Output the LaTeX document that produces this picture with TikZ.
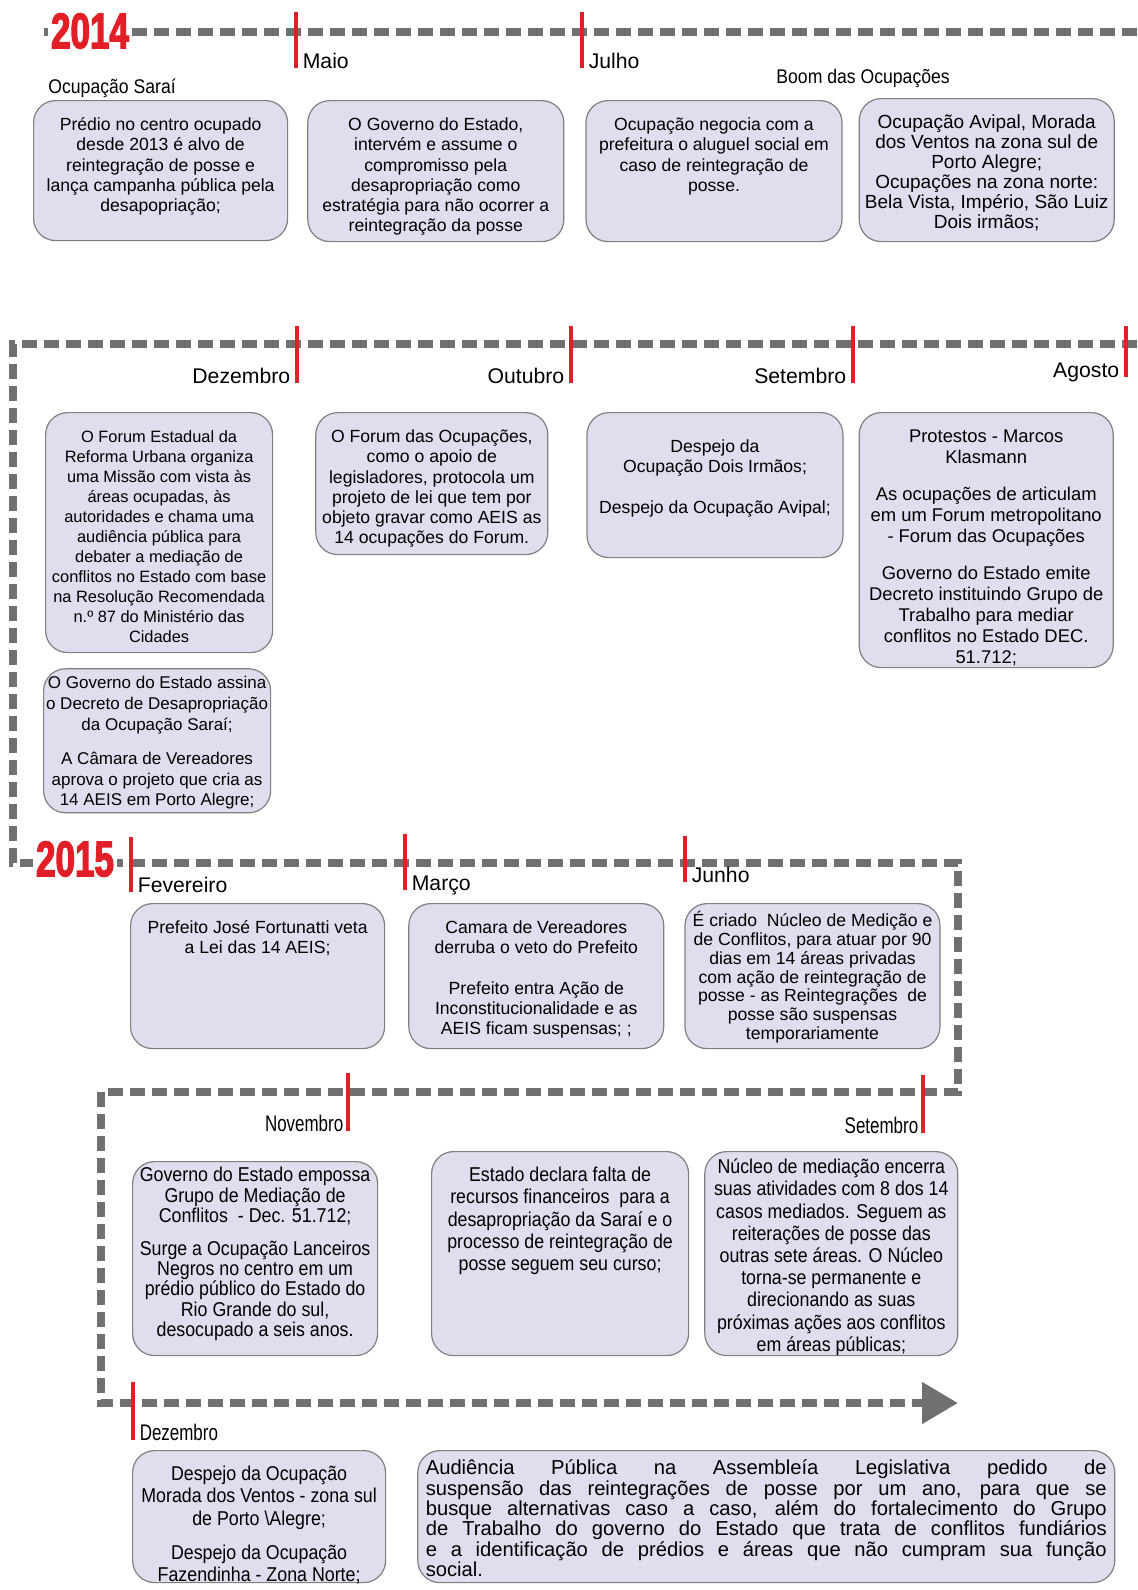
\documentclass[tikz,border=0pt]{standalone}
\usepackage{fontspec}
\setmainfont{Liberation Sans}
\newfontfamily\narrowfont[FakeStretch=0.89]{Liberation Sans}
\newfontfamily\condfont[FakeStretch=0.75]{Liberation Sans}
\newfontfamily\yearfont[FakeStretch=0.7,FakeBold=2.5]{Liberation Sans}
\usepackage{tikz}
\usetikzlibrary{arrows.meta,positioning,calc}
\definecolor{tlred}{RGB}{226,30,38}
\definecolor{tlgray}{RGB}{112,112,112}
\definecolor{boxfill}{RGB}{222,222,238}
\definecolor{boxline}{RGB}{128,128,128}
% lines of a box, top aligned, never broken
\newcommand{\evtext}[1]{\begin{tabular}[t]{@{}c@{}}#1\end{tabular}}

\begin{document}
\begin{tikzpicture}[
      x=0.5pt, y=-0.5pt,
      line/.style={draw=tlgray, line width=4pt, dash pattern=on 7.5pt off 3.5pt},
      tickmark/.style={fill=tlred, minimum width=2pt, inner sep=0pt, anchor=north},
      month/.style={font=\fontsize{10.6}{12}\selectfont, inner sep=0pt},
      nmonth/.style={month, font=\condfont\fontsize{11.3}{12}\selectfont},
      topic/.style={month, font=\narrowfont\fontsize{9.9}{12}\selectfont},
      year/.style={font=\yearfont\bfseries\fontsize{25}{25}\selectfont,
                   text=tlred, fill=white, inner sep=1.5pt},
      evbox/.style={draw=boxline, fill=boxfill, line width=0.6pt,
                    rounded corners=11pt, anchor=north west,
                    inner xsep=0pt, inner ysep=7pt, text height=8pt,
                    font=\fontsize{8.8}{10.1}\selectfont},
      nbox/.style={evbox, font=\narrowfont\fontsize{10}{11.1}\selectfont},
    ]
    \useasboundingbox (0,0) rectangle (1137,1590);

    % Timeline
    \coordinate (l1w) at (44,32);
    \coordinate (l1e) at (1137,32);
    \draw[line] (l1w) -- (l1e);
    \coordinate (r2e) at (1137,344);
    \coordinate (r2w) at (13,344);
    \coordinate (r3w) at (13,863);
    \coordinate (r3e) at (958,863);
    \coordinate (r4e) at (958,1092);
    \coordinate (r4w) at (101,1092);
    \coordinate (r5w) at (101,1403);
    \coordinate (r5e) at (958,1403);
    \draw[line, -{Triangle[length=18pt,width=20pt]}]
      (r2e) -- (r2w) -- (r3w) -- (r3e) -- (r4e) -- (r4w) -- (r5w) -- (r5e);

    \node[year] (y2014) at (90,31) {2014};
    \node[year] (y2015) at (75,859) {2015};

    % 2014, first row
    \node[tickmark, minimum height=28pt] (maiot) at (296,12) {};
    \node[tickmark, minimum height=28pt] (julhot) at (582,12) {};
    \node[month, anchor=base west, xshift=2pt] (maio) at (maiot.south east) {Maio};
    \node[month, anchor=base west, xshift=2pt] (julho) at (julhot.south east) {Julho};
    \node[topic, anchor=base west] (sarai) at (48,93) {Ocupação Saraí};
    \node[topic, anchor=base west] (boom) at (776,83) {Boom das Ocupações};

    \node[evbox, minimum width=127pt, text depth=48pt] (saraibox) at (33,100)
      {\evtext{Prédio no centro ocupado\\desde 2013 é alvo de\\reintegração de posse e\\lança campanha pública pela\\desapopriação;}};
    \node[evbox, minimum width=128pt, text depth=48.5pt,
          right=9.5pt of saraibox.north east, anchor=north west] (maiobox)
      {\evtext{O Governo do Estado,\\intervém e assume o\\compromisso pela\\desapropriação como\\estratégia para não ocorrer a\\reintegração da posse}};
    \node[evbox, minimum width=128pt, text depth=48.5pt,
          right=10.5pt of maiobox.north east, anchor=north west] (julbox)
      {\evtext{Ocupação negocia com a\\prefeitura o aluguel social em\\caso de reintegração de\\posse.}};
    \node[evbox, minimum width=127.5pt, text depth=49.5pt,
          font=\fontsize{9.5}{10}\selectfont,
          right=8pt of julbox.north east, anchor=north west, yshift=1pt] (boombox)
      {\evtext{Ocupação Avipal, Morada\\dos Ventos na zona sul de\\Porto Alegre;\\Ocupações na zona norte:\\Bela Vista, Império, São Luiz\\Dois irmãos;}};

    % 2014, second row
    \node[tickmark, minimum height=28.5pt] (dezt) at (297,326) {};
    \node[tickmark, minimum height=28.5pt] (outt) at (571,326) {};
    \node[tickmark, minimum height=28.5pt] (sett) at (853,326) {};
    \node[tickmark, minimum height=25.5pt] (agot) at (1126,326) {};
    \node[month, anchor=base east, xshift=-2pt] (dez) at (dezt.south west) {Dezembro};
    \node[month, anchor=base east, xshift=-2pt] (out) at (outt.south west) {Outubro};
    \node[month, anchor=base east, xshift=-2pt] (set) at (sett.south west) {Setembro};
    \node[month, anchor=base east, xshift=-2pt] (ago) at (agot.south west) {Agosto};

    \node[evbox, minimum width=113.5pt, text depth=98pt,
          font=\fontsize{8.2}{10}\selectfont] (forumbox) at (45,412)
      {\evtext{O Forum Estadual da\\Reforma Urbana organiza\\uma Missão com vista às\\áreas ocupadas, às\\autoridades e chama uma\\audiência pública para\\debater a mediação de\\conflitos no Estado com base\\na Resolução Recomendada\\n.º 87 do Ministério das\\Cidades}};
    \node[evbox, minimum width=113.5pt, text height=3pt, text depth=55pt,
          font=\fontsize{8.5}{10.3}\selectfont,
          below=7.5pt of forumbox.south west, anchor=north west, xshift=-1pt] (decretobox)
      {\evtext{O Governo do Estado assina\\o Decreto de Desapropriação\\da Ocupação Saraí;\\[7pt]A Câmara de Vereadores\\aprova o projeto que cria as\\14 AEIS em Porto Alegre;}};
    \node[evbox, minimum width=116pt, text depth=49pt,
          right=21pt of forumbox.north east, anchor=north west] (outbox)
      {\evtext{O Forum das Ocupações,\\como o apoio de\\legisladores, protocola um\\projeto de lei que tem por\\objeto gravar como AEIS as\\14 ocupações do Forum.}};
    \node[evbox, minimum width=128pt, text height=13pt, text depth=45.5pt,
          right=19pt of outbox.north east, anchor=north west] (setbox)
      {\evtext{Despejo da\\Ocupação Dois Irmãos;\\[10pt]Despejo da Ocupação Avipal;}};
    \node[evbox, minimum width=127pt, text depth=105.5pt,
          font=\fontsize{9.2}{10.5}\selectfont,
          right=7.5pt of setbox.north east, anchor=north west] (agobox)
      {\evtext{Protestos - Marcos\\Klasmann\\[8pt]As ocupações de articulam\\em um Forum metropolitano\\- Forum das Ocupações\\[8pt]Governo do Estado emite\\Decreto instituindo Grupo de\\Trabalho para mediar\\conflitos no Estado DEC.\\51.712;}};

    % 2015, first row
    \node[tickmark, minimum height=27.5pt] (fevt) at (131,837) {};
    \node[tickmark, minimum height=28pt] (mart) at (405,834) {};
    \node[tickmark, minimum height=23pt] (junt) at (685,836) {};
    \node[month, anchor=base west, xshift=2pt] (fev) at (fevt.south east) {Fevereiro};
    \node[month, anchor=base west, xshift=2pt] (mar) at (mart.south east) {Março};
    \node[month, anchor=base west, xshift=2pt] (jun) at (junt.south east) {Junho};

    \node[evbox, minimum width=127pt, text depth=50.5pt] (fevbox) at (130,903)
      {\evtext{Prefeito José Fortunatti veta\\a Lei das 14 AEIS;}};
    \node[evbox, minimum width=127.5pt, text depth=50.5pt,
          right=11.5pt of fevbox.north east, anchor=north west] (marbox)
      {\evtext{Camara de Vereadores\\derruba o veto do Prefeito\\[10pt]Prefeito entra Ação de\\Inconstitucionalidade e as\\AEIS ficam suspensas; ;}};
    \node[evbox, minimum width=127.5pt, text height=4.5pt, text depth=54pt,
          font=\fontsize{8.8}{9.4}\selectfont,
          right=10pt of marbox.north east, anchor=north west] (junbox)
      {\evtext{É criado\ \ Núcleo de Medição e\\de Conflitos, para atuar por 90\\dias em 14 áreas privadas\\com ação de reintegração de\\posse - as Reintegrações\ \ de\\posse são suspensas\\temporariamente}};

    % 2015, second row
    \node[tickmark, minimum height=29pt] (novt) at (348,1073) {};
    \node[tickmark, minimum height=29pt] (set2t) at (923,1075) {};
    \node[nmonth, anchor=base east, xshift=-1pt] (nov) at (novt.south west) {Novembro};
    \node[nmonth, anchor=base east, xshift=-1pt] (set2) at (set2t.south west) {Setembro};

    \node[nbox, minimum width=122.5pt, text height=3pt, text depth=80pt,
          font=\narrowfont\fontsize{10}{10}\selectfont] (novbox) at (132,1161)
      {\evtext{Governo do Estado empossa\\Grupo de Mediação de\\Conflitos\ \ - Dec. 51.712;\\[6pt]Surge a Ocupação Lanceiros\\Negros no centro em um\\prédio público do Estado do\\Rio Grande do sul,\\desocupado a seis anos.}};
    \node[nbox, minimum width=128.5pt, text depth=80pt] (estbox) at (431,1151)
      {\evtext{Estado declara falta de\\recursos financeiros\ \ para a\\desapropriação da Saraí e o\\processo de reintegração de\\posse seguem seu curso;}};
    \node[nbox, minimum width=126.5pt, text height=4pt, text depth=84pt,
          right=7.5pt of estbox.north east, anchor=north west] (nucbox)
      {\evtext{Núcleo de mediação encerra\\suas atividades com 8 dos 14\\casos mediados. Seguem as\\reiterações de posse das\\outras sete áreas. O Núcleo\\torna-se permanente e\\direcionando as suas\\próximas ações aos conflitos\\em áreas públicas;}};

    % 2015, last row
    \node[tickmark, minimum height=29pt] (dez2t) at (133,1382) {};
    \node[nmonth, anchor=base west, xshift=2pt] (dez2) at (dez2t.south east) {Dezembro};

    \node[nbox, minimum width=126.5pt, text depth=44pt] (dezfbox) at (132,1450)
      {\evtext{Despejo da Ocupação\\Morada dos Ventos - zona sul\\de Porto \textbackslash Alegre;\\[6pt]Despejo da Ocupação\\Fazendinha - Zona Norte;}};
    \node[nbox, font=\fontsize{10.1}{10.2}\selectfont, align=justify,
          inner xsep=4pt, text width=340.5pt, text height=5pt, text depth=47pt,
          right=15.5pt of dezfbox.north east, anchor=north west] (audbox)
      {Audiência Pública na Assembleía Legislativa pedido de\linebreak
       suspensão das reintegrações de posse por um ano, para que se\linebreak
       busque alternativas caso a caso, além do fortalecimento do Grupo\linebreak
       de Trabalho do governo do Estado que trata de conflitos fundiários\linebreak
       e a identificação de prédios e áreas que não cumpram sua função\linebreak
       social.};
  \end{tikzpicture}
\end{document}
